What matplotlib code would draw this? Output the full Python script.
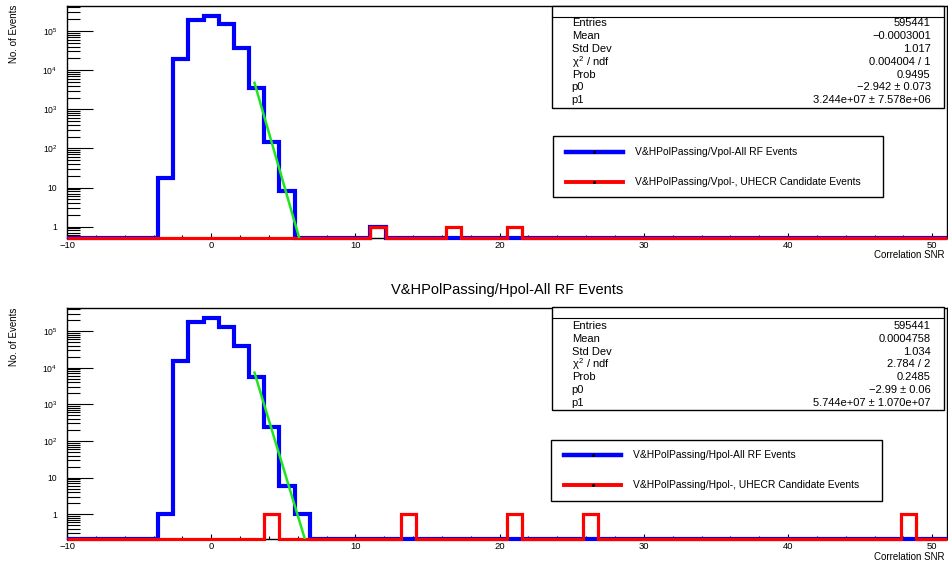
import numpy as np
import matplotlib
matplotlib.use("Agg")
import matplotlib.pyplot as plt
from matplotlib.lines import Line2D
from matplotlib.patches import Rectangle
from matplotlib.ticker import LogLocator, MultipleLocator, FuncFormatter, NullFormatter

plt.rcParams['font.family'] = ['Liberation Sans', 'DejaVu Sans']
plt.rcParams['mathtext.fontset'] = 'custom'
plt.rcParams['mathtext.rm'] = 'Liberation Sans'
plt.rcParams['mathtext.it'] = 'Liberation Sans'
plt.rcParams['mathtext.bf'] = 'Liberation Sans:bold'

# histogram binning (Correlation SNR)
snr_lo, snr_hi, n_bins = -10.0, 51.0, 58

# Vpol panel
vpol_all_bins = [6, 7, 8, 9, 10, 11, 12, 13, 14, 20]
vpol_all_counts = [18, 19000, 190000, 245000, 155000, 37000, 3500, 150, 8, 1]
vpol_cand_bins = [20, 25, 29]
vpol_cand_counts = [1, 1, 1]
vpol_p0, vpol_p1 = -2.942, 3.244e7
vpol_stat_values = ["595441", "\u22120.0003001", "1.017", "0.004004 / 1", "0.9495",
                    "\u22122.942 \u00b1 0.073", "3.244e+07 \u00b1 7.578e+06"]

# Hpol panel
hpol_all_bins = [6, 7, 8, 9, 10, 11, 12, 13, 14, 15]
hpol_all_counts = [1, 15000, 180000, 220000, 125000, 39000, 5400, 245, 6, 1]
hpol_cand_bins = [13, 22, 29, 34, 55]
hpol_cand_counts = [1, 1, 1, 1, 1]
hpol_p0, hpol_p1 = -2.99, 5.744e7
hpol_stat_values = ["595441", "0.0004758", "1.034", "2.784 / 2", "0.2485",
                    "\u22122.99 \u00b1 0.06", "5.744e+07 \u00b1 1.070e+07"]

stat_names = ["Entries", "Mean", "Std Dev", r"$\chi^{2}$ / ndf", "Prob", "p0", "p1"]

W, H = 948, 567
fig = plt.figure(figsize=(W / 100, H / 100), dpi=100)


def fx(x):
    return x / W


def fy(y):
    return 1 - y / H


edges = np.linspace(snr_lo, snr_hi, n_bins + 1)


def fill(bins, counts):
    h = np.zeros(n_bins)
    h[bins] = counts
    return h


def log_label(v, pos):
    if v < 1:
        return ""
    e = int(round(np.log10(v)))
    if abs(np.log10(v) - e) > 1e-6:
        return ""
    if e == 0:
        return "1"
    if e == 1:
        return "10"
    return r"$10^{%d}$" % e


def panel(top, bottom, ylim, h_all, h_cand, p0, p1):
    ax = fig.add_axes([fx(67), fy(bottom), fx(946.7) - fx(67), (bottom - top) / H])
    ymin = ylim[0]
    a = np.where(h_all > 0, h_all, ymin)
    c = np.where(h_cand > 0, h_cand, ymin)
    ax.stairs(a, edges, baseline=None, color="#0000ff", lw=3.0, clip_on=False, zorder=3)
    ax.stairs(c, edges, baseline=None, color="#ff0000", lw=2.3, clip_on=False, zorder=4)
    xf = np.linspace(3, 7.5, 100)
    ax.plot(xf, p1 * np.exp(p0 * xf), color="#1ee61e", lw=1.8, zorder=5)
    ax.set_yscale("log")
    ax.set_xlim(snr_lo, snr_hi)
    ax.set_ylim(*ylim)
    ax.xaxis.set_major_locator(MultipleLocator(10))
    ax.xaxis.set_minor_locator(MultipleLocator(2))
    ax.yaxis.set_major_locator(LogLocator(base=10, numticks=20))
    ax.yaxis.set_minor_locator(LogLocator(base=10, subs=np.arange(2, 10), numticks=20))
    ax.yaxis.set_major_formatter(FuncFormatter(log_label))
    ax.yaxis.set_minor_formatter(NullFormatter())
    ax.tick_params(axis="x", which="both", direction="in", top=False, labelsize=6.8, pad=2, width=0.8)
    ax.tick_params(axis="x", which="major", length=3.6)
    ax.tick_params(axis="x", which="minor", length=2.0)
    ax.tick_params(axis="y", which="both", direction="in", right=False, labelsize=6.2, pad=7, width=0.8)
    ax.tick_params(axis="y", which="major", length=18.7)
    ax.tick_params(axis="y", which="minor", length=9.4)
    for s in ax.spines.values():
        s.set_linewidth(1.0)
    return ax


def stats_box(top, bottom, first_row, values):
    fig.add_artist(Rectangle((fx(552), fy(bottom)), fx(944) - fx(552), (bottom - top) / H,
                             transform=fig.transFigure, facecolor="white", edgecolor="black", lw=1.0))
    fig.add_artist(Line2D([fx(552), fx(944)], [fy(top + 10.7)] * 2, transform=fig.transFigure,
                          color="black", lw=0.8))
    for i, (name, val) in enumerate(zip(stat_names, values)):
        y = fy(first_row + i * 12.8)
        fig.text(fx(571.7), y, name, ha="left", va="center", fontsize=8.0)
        fig.text(fx(930.7), y, val, ha="right", va="center", fontsize=8.0)


def legend_box(x0, x1, top, bottom, rows, labels):
    fig.add_artist(Rectangle((fx(x0), fy(bottom)), fx(x1) - fx(x0), (bottom - top) / H,
                             transform=fig.transFigure, facecolor="white", edgecolor="black", lw=1.0))
    for y, lab, col, lw in zip(rows, labels, ["#0000ff", "#ff0000"], [3.2, 2.8]):
        fig.add_artist(Line2D([fx(x0 + 13), fx(x0 + 70)], [fy(y)] * 2, transform=fig.transFigure,
                              color=col, lw=lw))
        fig.add_artist(Line2D([fx(x0 + 41.5)], [fy(y)], transform=fig.transFigure, marker="o",
                              markersize=1.2, color="black", lw=0))
        fig.text(fx(x0 + 82), fy(y), lab, ha="left", va="center", fontsize=7.4)


ax1 = panel(5.5, 238, (0.514, 4.49e5), fill(vpol_all_bins, vpol_all_counts),
            fill(vpol_cand_bins, vpol_cand_counts), vpol_p0, vpol_p1)
ax2 = panel(308.3, 539.3, (0.208, 4.16e5), fill(hpol_all_bins, hpol_all_counts),
            fill(hpol_cand_bins, hpol_cand_counts), hpol_p0, hpol_p1)

stats_box(6, 108, 23.3, vpol_stat_values)
stats_box(307.3, 410, 326, hpol_stat_values)

legend_box(552.7, 883.3, 136, 197.3, [151.7, 181.7],
           ["V&HPolPassing/Vpol-All RF Events", "V&HPolPassing/Vpol-, UHECR Candidate Events"])
legend_box(551, 881.7, 440, 500.7, [455, 485],
           ["V&HPolPassing/Hpol-All RF Events", "V&HPolPassing/Hpol-, UHECR Candidate Events"])

fig.text(fx(506.8), fy(290), "V&HPolPassing/Hpol-All RF Events", ha="center", va="center", fontsize=10.5)

for top, xl_y in [(5, 255), (308, 556.5)]:
    fig.text(fx(14), fy(top), "No. of Events", rotation=90, ha="center", va="top", fontsize=7)
    fig.text(fx(945), fy(xl_y), "Correlation SNR", ha="right", va="center", fontsize=7)

fig.savefig("out.png", dpi=100)
